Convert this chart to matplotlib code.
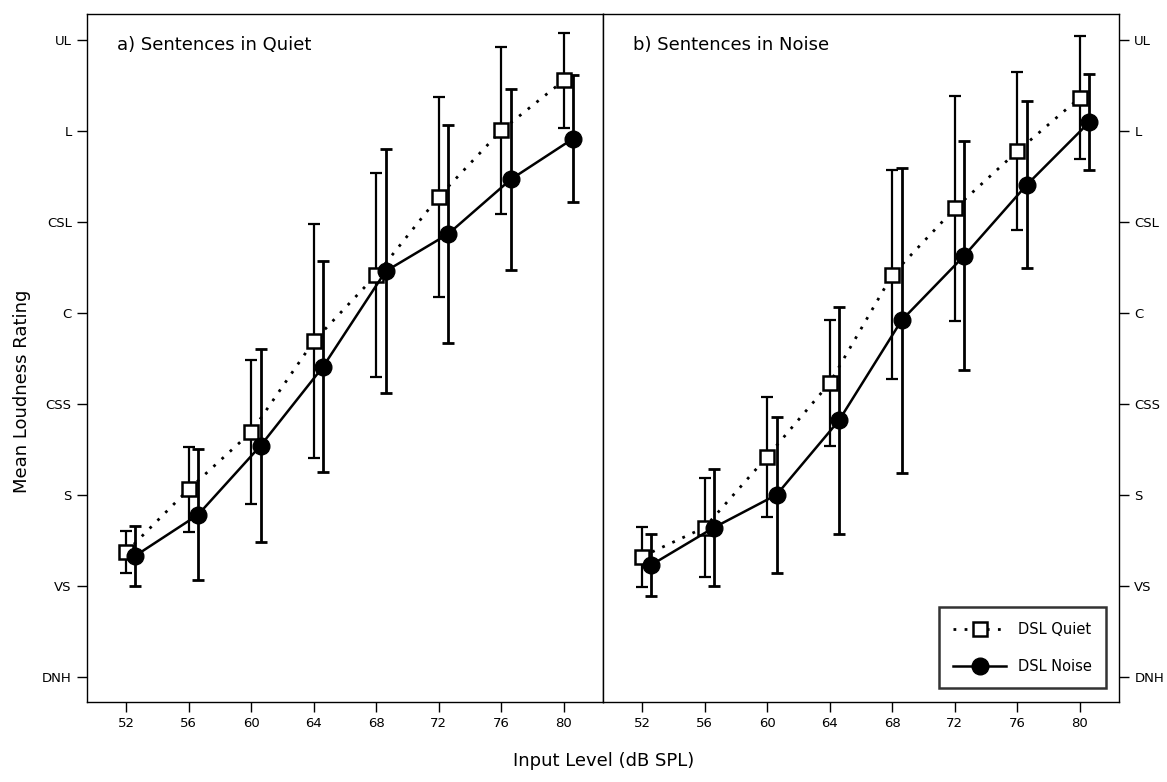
import numpy as np
import matplotlib
matplotlib.use("Agg")
import matplotlib.pyplot as plt

# input levels (dB SPL) and loudness category labels
levels = [52, 56, 60, 64, 68, 72, 76, 80]
rating_labels = ["DNH", "VS", "S", "CSS", "C", "CSL", "L", "UL"]

# a) sentences in quiet
quietA_mean = [1.37, 2.06, 2.69, 3.69, 4.42, 5.28, 6.01, 6.56]
quietA_sd = [0.23, 0.47, 0.79, 1.29, 1.12, 1.10, 0.92, 0.52]
noiseA_mean = [1.33, 1.78, 2.54, 3.41, 4.46, 4.87, 5.47, 5.92]
noiseA_sd = [0.33, 0.72, 1.06, 1.16, 1.34, 1.20, 1.00, 0.70]

# b) sentences in noise
quietB_mean = [1.32, 1.64, 2.42, 3.23, 4.42, 5.15, 5.78, 6.37]
quietB_sd = [0.33, 0.55, 0.66, 0.69, 1.15, 1.24, 0.87, 0.68]
noiseB_mean = [1.23, 1.64, 2.00, 2.82, 3.92, 4.63, 5.41, 6.10]
noiseB_sd = [0.34, 0.64, 0.86, 1.25, 1.68, 1.26, 0.92, 0.53]

offset = 0.6  # shift circles so error bars don't overlap

plt.rcParams['font.family'] = ['DejaVu Sans']

fig = plt.figure(figsize=(11.67, 7.82), dpi=100)
axL = fig.add_axes([87/1167, 1-702/782, 516/1167, 688/782])
axR = fig.add_axes([603/1167, 1-702/782, 516/1167, 688/782])


def draw_panel(ax, qm, qs, nm, ns, title):
    x = np.array(levels, dtype=float)
    ax.errorbar(x, qm, yerr=qs, fmt='none', ecolor='black', elinewidth=1.6,
                capsize=4.5, capthick=1.6, zorder=2)
    ax.errorbar(x + offset, nm, yerr=ns, fmt='none', ecolor='black', elinewidth=2.0,
                capsize=4.5, capthick=2.0, zorder=2)
    ax.plot(x, qm, linestyle=(0, (1.0, 3.0)), color='black', lw=2.0, marker='s',
            markersize=10, markerfacecolor='white', markeredgecolor='black',
            markeredgewidth=1.8, label='DSL Quiet', zorder=3)
    ax.plot(x + offset, nm, linestyle='-', color='black', lw=1.8, marker='o',
            markersize=12, markerfacecolor='black', markeredgecolor='black',
            label='DSL Noise', zorder=3)
    ax.set_xlim(49.5, 82.5)
    ax.set_ylim(-0.28, 7.29)
    ax.set_xticks(levels)
    ax.set_xticklabels([str(v) for v in levels], fontsize=9.5)
    ax.set_yticks(range(len(rating_labels)))
    ax.set_yticklabels(rating_labels, fontsize=9.5)
    ax.tick_params(direction='out', length=7, width=1.0, pad=4)
    for sp in ax.spines.values():
        sp.set_linewidth(1.0)
    ax.text(0.058, 0.955, title, transform=ax.transAxes, fontsize=13,
            ha='left', va='center')


draw_panel(axL, quietA_mean, quietA_sd, noiseA_mean, noiseA_sd, "a) Sentences in Quiet")
draw_panel(axR, quietB_mean, quietB_sd, noiseB_mean, noiseB_sd, "b) Sentences in Noise")

axL.tick_params(axis='y', left=True, right=False)
axR.tick_params(axis='y', left=False, right=True, labelleft=False, labelright=True)

leg = axR.legend(loc='lower right', bbox_to_anchor=(0.975, 0.02), fontsize=10.5,
                 frameon=True, fancybox=False, handlelength=3.6,
                 borderpad=1.0, labelspacing=1.5, borderaxespad=0)
leg.get_frame().set_edgecolor('black')
leg.get_frame().set_linewidth(1.8)

fig.text(0.019, 0.5, "Mean Loudness Rating", rotation=90, fontsize=13,
         ha='center', va='center')
fig.text(0.517, 0.015, "Input Level (dB SPL)", fontsize=13, ha='center', va='bottom')

fig.savefig("out.png", dpi=100, facecolor='white')
